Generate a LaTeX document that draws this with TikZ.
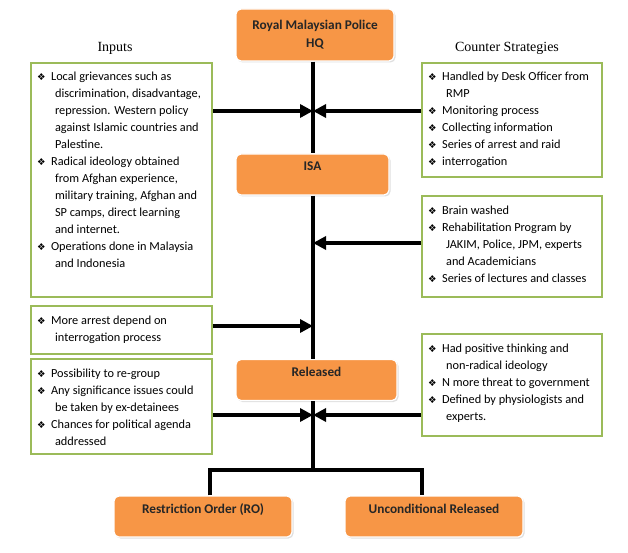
\documentclass[tikz,border=0pt]{standalone}
\usepackage{fontspec}
\setmainfont{Carlito}
\newfontfamily\headfont{Liberation Serif}
\newfontfamily\symfont{DejaVu Sans}
\usetikzlibrary{arrows.meta,shadows}

\definecolor{boxorange}{HTML}{F79646}
\definecolor{boxgreen}{HTML}{9BBB59}

\newcommand{\bul}{{\symfont\fontsize{9.5}{9.5}\selectfont ❖}}
\newcommand{\itm}{\par\noindent\hangindent=18pt\hangafter=1\makebox[14pt][l]{\bul\strut}}
\newcommand{\lst}[3]{\parbox[c][#1pt][t]{#2pt}{\rightskip=0pt plus 1fil\relax
  \fontsize{12.3}{17}\selectfont #3}}

\tikzset{
  obox/.style={fill=boxorange, draw=white, line width=1.2pt, rounded corners=5pt,
    drop shadow={shadow xshift=1.5pt, shadow yshift=-1.5pt, fill=black!25},
    font=\bfseries\fontsize{13.3}{18}\selectfont, text=black!85, inner sep=4pt},
  onerow/.style={text height=13pt, text depth=20pt},
  lbox/.style={draw=boxgreen, line width=2.2pt, fill=white, inner sep=6pt,
    anchor=north west},
  head/.style={font=\headfont\fontsize{14}{16}\selectfont},
  spine/.style={line width=4.5pt},
  feed/.style={line width=4.5pt, -{Triangle[length=13pt,width=13pt]}}
}

\begin{document}
\begin{tikzpicture}[x=1pt, y=-1pt]
  \useasboundingbox (0,0) rectangle (628,553);
  \def\xspine{313}

  % main steps
  \node[obox, align=center, minimum width=158pt, minimum height=52pt] (hq) at (315,35)
    {Royal Malaysian Police\\HQ};
  \node[obox, onerow, minimum width=153pt] (isa) at (312.5,174.5) {ISA};
  \node[obox, onerow, minimum width=161pt] (rel) at (316.5,380) {Released};
  \node[obox, onerow, minimum width=178pt] (ro) at (203,516.5) {Restriction Order (RO)};
  \node[obox, onerow, minimum width=178pt] (unc) at (434,516.5) {Unconditional Released};

  % headings
  \node[head] (inph) at (115,48) {Inputs};
  \node[head] (csh) at (507,48) {Counter Strategies};

  % left column
  \node[lbox] (inp) at (30,62) {\lst{222}{169}{%
    \itm Local grievances such as\\ discrimination, disadvantage,\\ repression. Western policy\\
      against Islamic countries and\\ Palestine.
    \itm Radical ideology obtained\\ from Afghan experience,\\ military training, Afghan and\\
      SP camps, direct learning\\ and internet.
    \itm Operations done in Malaysia\\ and Indonesia}};
  \node[lbox] (arr) at (30,305) {\lst{36}{169}{%
    \itm More arrest depend on\\ interrogation process}};
  \node[lbox] (pos) at (30,358) {\lst{83}{169}{%
    \itm Possibility to re-group
    \itm Any significance issues could\\ be taken by ex-detainees
    \itm Chances for political agenda\\ addressed}};

  % right column
  \node[lbox] (cs1) at (421,62) {\lst{102}{168}{%
    \itm Handled by Desk Officer from\\ RMP
    \itm Monitoring process
    \itm Collecting information
    \itm Series of arrest and raid
    \itm interrogation}};
  \node[lbox] (cs2) at (421,195) {\lst{89}{168}{%
    \itm Brain washed
    \itm Rehabilitation Program by\\ JAKIM, Police, JPM, experts\\ and Academicians
    \itm Series of lectures and classes}};
  \node[lbox] (cs3) at (421,333) {\lst{90}{168}{%
    \itm Had positive thinking and\\ non-radical ideology
    \itm N more threat to government
    \itm Defined by physiologists and\\ experts.}};

  % spine and branches
  \coordinate (j1) at (\xspine,111);
  \coordinate (j2) at (\xspine,243);
  \coordinate (j3) at (\xspine,326);
  \coordinate (j4) at (\xspine,415);
  \coordinate (split) at (\xspine,470);
  \coordinate (rl) at (210,470);
  \coordinate (rr) at (422,470);

  \draw[spine] (hq.south -| split) -- (isa.north -| split);
  \draw[spine] (isa.south -| split) -- (rel.north -| split);
  \draw[spine] (rel.south -| split) -- (split);
  \draw[spine] (ro.north -| rl) -- (rl) -- (rr) -- (unc.north -| rr);

  \draw[feed] (inp.east |- j1) -- (j1);
  \draw[feed] (cs1.west |- j1) -- (j1);
  \draw[feed] (cs2.west |- j2) -- (j2);
  \draw[feed] (arr.east |- j3) -- (j3);
  \draw[feed] (pos.east |- j4) -- (j4);
  \draw[feed] (cs3.west |- j4) -- (j4);
\end{tikzpicture}
\end{document}
